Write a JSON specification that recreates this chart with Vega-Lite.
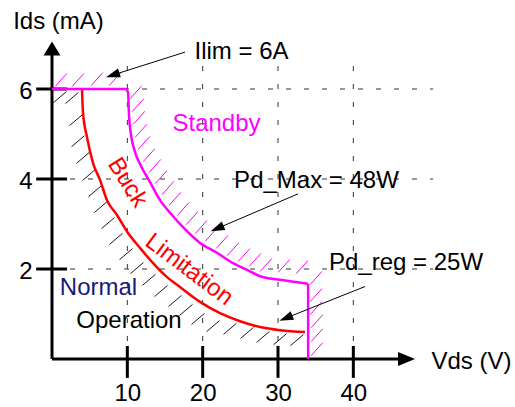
{
  "$schema": "https://vega.github.io/schema/vega-lite/v6.json",
  "width": 452,
  "height": 315,
  "autosize": {"type": "none"},
  "padding": {"left": 52, "top": 44, "right": 11, "bottom": 48},
  "background": "white",
  "config": {
    "view": {"stroke": null},
    "font": "Liberation Sans",
    "text": {"font": "Liberation Sans", "fontSize": 24}
  },
  "datasets": {
    "vgrid": [{"x": 10, "y": 0, "y2": 6.53}, {"x": 20, "y": 0, "y2": 6.53}, {"x": 30, "y": 0, "y2": 6.53}, {"x": 40, "y": 0, "y2": 6.53}],
    "hgrid": [{"y": 2, "x": 0, "x2": 50.6}, {"y": 4, "x": 0, "x2": 50.6}, {"y": 6, "x": 0, "x2": 50.6}],
    "bh": [
      {"x": 1.06, "y": 5.82}, {"x": 2.65, "y": 5.8}, {"x": 3.19, "y": 5.31}, {"x": 3.45, "y": 4.84},
      {"x": 4.11, "y": 4.47}, {"x": 4.91, "y": 4.09}, {"x": 5.71, "y": 3.73}, {"x": 6.5, "y": 3.38},
      {"x": 7.43, "y": 3.02}, {"x": 8.5, "y": 2.67}, {"x": 9.82, "y": 2.33}, {"x": 11.28, "y": 2.02},
      {"x": 12.88, "y": 1.76}, {"x": 14.47, "y": 1.51}, {"x": 16.33, "y": 1.29}, {"x": 17.79, "y": 1.09},
      {"x": 19.38, "y": 0.89}, {"x": 21.37, "y": 0.73}, {"x": 23.63, "y": 0.67}, {"x": 25.89, "y": 0.58},
      {"x": 28.01, "y": 0.49}, {"x": 30.27, "y": 0.44}, {"x": 32.52, "y": 0.42}
    ],
    "mh": [
      {"x": 1.19, "y": 6.2}, {"x": 3.45, "y": 6.2}, {"x": 5.97, "y": 6.22}, {"x": 8.36, "y": 6.22},
      {"x": 11.15, "y": 5.93}, {"x": 11.42, "y": 5.64}, {"x": 11.55, "y": 5.36}, {"x": 11.81, "y": 5.07},
      {"x": 12.21, "y": 4.8}, {"x": 12.88, "y": 4.53}, {"x": 13.67, "y": 4.29}, {"x": 14.47, "y": 4.04},
      {"x": 15.4, "y": 3.8}, {"x": 16.33, "y": 3.56}, {"x": 17.39, "y": 3.33}, {"x": 18.59, "y": 3.13},
      {"x": 19.78, "y": 2.93}, {"x": 21.11, "y": 2.76}, {"x": 22.57, "y": 2.6}, {"x": 24.03, "y": 2.44},
      {"x": 25.49, "y": 2.31}, {"x": 26.95, "y": 2.2}, {"x": 28.41, "y": 2.09}, {"x": 30.8, "y": 2.07},
      {"x": 33.19, "y": 2.04}, {"x": 35.05, "y": 1.8}, {"x": 35.05, "y": 1.42}, {"x": 35.05, "y": 1.13},
      {"x": 35.18, "y": 0.84}, {"x": 35.18, "y": 0.53}, {"x": 35.18, "y": 0.22}
    ],
    "red": [
      {"x": 3.98, "y": 6.02}, {"x": 4.12, "y": 5.47}, {"x": 4.65, "y": 4.93}, {"x": 5.44, "y": 4.36},
      {"x": 6.37, "y": 3.98}, {"x": 7.3, "y": 3.53}, {"x": 8.63, "y": 3.2}, {"x": 10.09, "y": 2.8},
      {"x": 11.68, "y": 2.47}, {"x": 13.41, "y": 2.13}, {"x": 15.27, "y": 1.82}, {"x": 16.99, "y": 1.6},
      {"x": 19.65, "y": 1.27}, {"x": 22.3, "y": 1.02}, {"x": 24.96, "y": 0.84}, {"x": 27.61, "y": 0.71},
      {"x": 30.27, "y": 0.64}, {"x": 33.59, "y": 0.6}
    ],
    "mag": [
      {"x": 0, "y": 6}, {"x": 9.69, "y": 6}, {"x": 10.09, "y": 5.93}, {"x": 10.22, "y": 5.42},
      {"x": 10.49, "y": 4.98}, {"x": 11.02, "y": 4.6}, {"x": 11.81, "y": 4.29}, {"x": 13.01, "y": 3.93},
      {"x": 14.34, "y": 3.53}, {"x": 15.93, "y": 3.2}, {"x": 17.39, "y": 2.93}, {"x": 19.65, "y": 2.58},
      {"x": 21.9, "y": 2.36}, {"x": 24.03, "y": 2.13}, {"x": 25.89, "y": 1.98}, {"x": 27.61, "y": 1.84},
      {"x": 30.27, "y": 1.76}, {"x": 33.98, "y": 1.67}
    ],
    "magV": [{"x": 34.0, "y": 0, "y2": 1.67}],
    "axisH": [{"x": 0, "x2": 46.5, "y": 0}, {"x": -2.1, "x2": 2, "y": 2}, {"x": -2.1, "x2": 2, "y": 4}, {"x": -2.1, "x2": 2, "y": 6}],
    "axisV": [{"x": 0, "y": 0, "y2": 6.8}, {"x": 10, "y": -0.42, "y2": 0.29}, {"x": 20, "y": -0.42, "y2": 0.29}, {"x": 30, "y": -0.42, "y2": 0.29}, {"x": 40, "y": -0.42, "y2": 0.29}],
    "axisHeadX": [{"x": 47.06, "y": 0}],
    "axisHeadY": [{"x": 0, "y": 6.9}],
    "arrowLines": [
      {"x": 17.66, "y": 6.82, "x2": 8.06, "y2": 6.31},
      {"x": 32.66, "y": 3.67, "x2": 21.92, "y2": 2.9},
      {"x": 41.55, "y": 1.61, "x2": 31.04, "y2": 0.91}
    ],
    "headIlim": [{"x": 8.06, "y": 6.31}],
    "headMax": [{"x": 21.92, "y": 2.9}],
    "headReg": [{"x": 31.04, "y": 0.91}],
    "tBlack": [
      {"t": "Ilim = 6A", "x": 25.16, "y": 6.66},
      {"t": "Pd_Max = 48W", "x": 35.11, "y": 3.79},
      {"t": "Pd_reg = 25W", "x": 46.99, "y": 1.98},
      {"t": "Operation", "x": 10.22, "y": 0.68}
    ],
    "tMag": [{"t": "Standby", "x": 21.84, "y": 5.07}],
    "tNavy": [{"t": "Normal", "x": 6.17, "y": 1.42}],
    "tBuck": [{"t": "Buck", "x": 10.0, "y": 3.92}],
    "tLim": [{"t": "Limitation", "x": 18.19, "y": 1.98}]
  },
  "encoding": {
    "x": {
      "field": "x", "type": "quantitative",
      "scale": {"domain": [0, 60], "nice": false, "zero": false},
      "axis": {
        "values": [10, 20, 30, 40], "domain": false, "ticks": false, "grid": false,
        "labelFont": "Liberation Sans", "labelFontSize": 24, "labelColor": "#000", "labelPadding": 22,
        "labelFlush": false, "labelOverlap": false,
        "title": "Vds (V)", "titleFont": "Liberation Sans", "titleFontSize": 24, "titleFontWeight": "normal",
        "titleColor": "#000", "titleX": 419, "titleY": 9, "titleAlign": "center", "titleBaseline": "alphabetic", "titleAngle": 0
      }
    },
    "y": {
      "field": "y", "type": "quantitative",
      "scale": {"domain": [0, 7], "nice": false, "zero": false},
      "axis": {
        "values": [2, 4, 6], "domain": false, "ticks": false, "grid": false,
        "labelFont": "Liberation Sans", "labelFontSize": 24, "labelColor": "#000", "labelPadding": 20, "labelOffset": 2,
        "labelFlush": false, "labelOverlap": false,
        "title": "Ids (mA)", "titleFont": "Liberation Sans", "titleFontSize": 24, "titleFontWeight": "normal",
        "titleColor": "#000", "titleX": 6, "titleY": -15.7, "titleAlign": "center", "titleBaseline": "alphabetic", "titleAngle": 0
      }
    }
  },
  "layer": [
    {"data": {"name": "vgrid"}, "mark": {"type": "rule", "color": "#333", "strokeWidth": 1, "strokeDash": [5, 13]}, "encoding": {"y2": {"field": "y2"}}},
    {"data": {"name": "hgrid"}, "mark": {"type": "rule", "color": "#333", "strokeWidth": 1, "strokeDash": [5, 13]}, "encoding": {"x2": {"field": "x2"}}},
    {"data": {"name": "bh"}, "mark": {"type": "point", "shape": "M-1,0.85L1,-0.85", "size": 169, "filled": false, "stroke": "#1a1a1a", "strokeWidth": 1, "opacity": 1}, "encoding": {}},
    {"data": {"name": "mh"}, "mark": {"type": "point", "shape": "M-0.9,1L0.9,-1", "size": 169, "filled": false, "stroke": "#ff00ff", "strokeWidth": 1, "opacity": 1}, "encoding": {}},
    {"data": {"name": "axisH"}, "mark": {"type": "rule", "color": "#000", "strokeWidth": 3}, "encoding": {"x2": {"field": "x2"}}},
    {"data": {"name": "axisV"}, "mark": {"type": "rule", "color": "#000", "strokeWidth": 3}, "encoding": {"y2": {"field": "y2"}}},
    {"data": {"name": "axisHeadX"}, "mark": {"type": "point", "shape": "M1,0L-1,-0.82L-1,0.82Z", "size": 289, "filled": true, "color": "#000", "opacity": 1}, "encoding": {}},
    {"data": {"name": "axisHeadY"}, "mark": {"type": "point", "shape": "M0,-1L1.2,1L-1.2,1Z", "size": 196, "filled": true, "color": "#000", "opacity": 1}, "encoding": {}},
    {"data": {"name": "red"}, "mark": {"type": "line", "color": "#ff0000", "strokeWidth": 2.5, "interpolate": "monotone"}, "encoding": {}},
    {"data": {"name": "mag"}, "mark": {"type": "line", "color": "#ff00ff", "strokeWidth": 2.5, "interpolate": "monotone"}, "encoding": {}},
    {"data": {"name": "magV"}, "mark": {"type": "rule", "color": "#ff00ff", "strokeWidth": 2.5}, "encoding": {"y2": {"field": "y2"}}},
    {"data": {"name": "arrowLines"}, "mark": {"type": "rule", "color": "#000", "strokeWidth": 1}, "encoding": {"x2": {"field": "x2"}, "y2": {"field": "y2"}}},
    {"data": {"name": "headIlim"}, "mark": {"type": "point", "shape": "M0,-1L0.65,1L-0.65,1Z", "size": 196, "angle": 252, "filled": true, "color": "#000", "opacity": 1}, "encoding": {}},
    {"data": {"name": "headMax"}, "mark": {"type": "point", "shape": "M0,-1L0.65,1L-0.65,1Z", "size": 196, "angle": 247, "filled": true, "color": "#000", "opacity": 1}, "encoding": {}},
    {"data": {"name": "headReg"}, "mark": {"type": "point", "shape": "M0,-1L0.65,1L-0.65,1Z", "size": 196, "angle": 248, "filled": true, "color": "#000", "opacity": 1}, "encoding": {}},
    {"data": {"name": "tBlack"}, "mark": {"type": "text", "color": "#000", "align": "center", "baseline": "alphabetic", "fontSize": 24}, "encoding": {"text": {"field": "t"}}},
    {"data": {"name": "tMag"}, "mark": {"type": "text", "color": "#ff00ff", "align": "center", "baseline": "alphabetic", "fontSize": 24}, "encoding": {"text": {"field": "t"}}},
    {"data": {"name": "tNavy"}, "mark": {"type": "text", "color": "#1a1a78", "align": "center", "baseline": "alphabetic", "fontSize": 24}, "encoding": {"text": {"field": "t"}}},
    {"data": {"name": "tBuck"}, "mark": {"type": "text", "color": "#ff0000", "align": "center", "baseline": "middle", "fontSize": 24, "angle": 58}, "encoding": {"text": {"field": "t"}}},
    {"data": {"name": "tLim"}, "mark": {"type": "text", "color": "#ff0000", "align": "center", "baseline": "middle", "fontSize": 24, "angle": 37}, "encoding": {"text": {"field": "t"}}}
  ]
}
